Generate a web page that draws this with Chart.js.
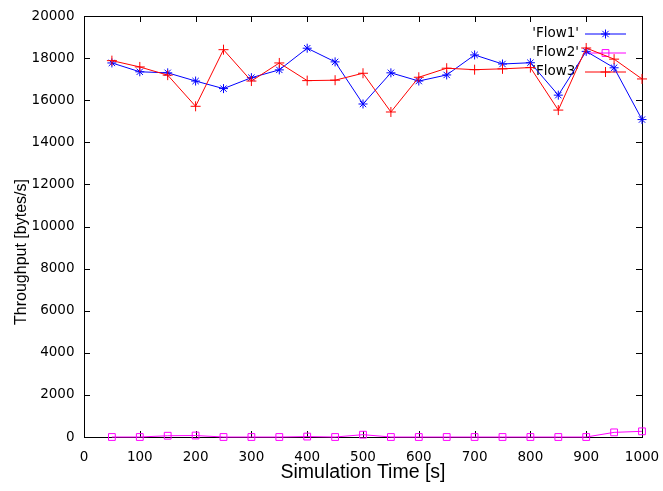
<!DOCTYPE html>
<html><head><meta charset="utf-8">
<script src="https://cdn.jsdelivr.net/npm/chart.js@4/dist/chart.umd.min.js"></script>
<style>html,body{margin:0;padding:0;background:#fff}#wrap{width:663px;height:491px}</style>
</head><body><div id="wrap"><canvas id="c" width="663" height="491"></canvas></div>
<script>
const times = [50,100,150,200,250,300,350,400,450,500,550,600,650,700,750,800,850,900,950,1000];
const flow1 = [17770,17350,17300,16910,16550,17070,17440,18470,17820,15820,17300,16910,17200,18150,17720,17780,16240,18320,17540,15080];
const flow2 = [0,0,60,70,0,0,0,20,0,110,0,0,0,0,0,0,0,0,220,270];
const flow3 = [17880,17580,17190,15710,18400,16910,17770,16930,16950,17280,15440,17090,17520,17450,17490,17550,15530,18480,17950,17010];
const xTicks = [0,100,200,300,400,500,600,700,800,900,1000];
const yTicks = [0,2000,4000,6000,8000,10000,12000,14000,16000,18000,20000];
const seriesNames = ["'Flow1'","'Flow2'","'Flow3'"];
const xTitle = 'Simulation Time [s]';
const yTitle = 'Throughput [bytes/s]';

const pts = arr => times.map((t,i)=>({x:t,y:arr[i]}));

const framePlugin = {
  id:'frame',
  beforeDatasetsDraw(chart){
    const {ctx, chartArea:a, scales:{x,y}} = chart;
    ctx.save();
    ctx.strokeStyle = '#000';
    ctx.lineWidth = 1;
    ctx.strokeRect(a.left+0.5, a.top+0.5, a.right-a.left, a.bottom-a.top);
    ctx.beginPath();
    const L = 6;
    x.ticks.forEach(t=>{
      const px = Math.round(x.getPixelForValue(t.value))+0.5;
      ctx.moveTo(px, a.bottom); ctx.lineTo(px, a.bottom-L);
      ctx.moveTo(px, a.top); ctx.lineTo(px, a.top+L);
    });
    y.ticks.forEach(t=>{
      const py = Math.round(y.getPixelForValue(t.value))+0.5;
      ctx.moveTo(a.left, py); ctx.lineTo(a.left+L, py);
      ctx.moveTo(a.right, py); ctx.lineTo(a.right-L, py);
    });
    ctx.stroke();
    // key
    ctx.font = '13.5px "DejaVu Sans"';
    ctx.textAlign = 'right';
    ctx.textBaseline = 'middle';
    chart.data.datasets.forEach((ds,i)=>{
      const yy = 33.5 + i*19;
      ctx.fillStyle = '#000';
      ctx.fillText(ds.label, 579, yy);
      ctx.strokeStyle = ds.borderColor;
      ctx.fillStyle = 'rgba(0,0,0,0)';
      ctx.lineWidth = 1;
      ctx.beginPath(); ctx.moveTo(585, yy+0.5); ctx.lineTo(626, yy+0.5); ctx.stroke();
      Chart.helpers.drawPoint(ctx, {pointStyle: ds.pointStyle, radius: ds.pointRadius, rotation:0, borderWidth:1}, 605.5, yy+0.5);
    });
    // y title
    ctx.save();
    ctx.translate(22, 252);
    ctx.rotate(-Math.PI/2);
    ctx.textAlign = 'center';
    ctx.textBaseline = 'middle';
    ctx.fillStyle = '#000';
    ctx.font = '16px "Liberation Sans"';
    ctx.fillText(yTitle, 0, 0);
    ctx.restore();
    ctx.restore();
  }
};

const mk = (label, arr, color, style, r) => ({
  label, data: pts(arr), borderColor: color, backgroundColor: 'transparent',
  borderWidth: 1, pointStyle: style, pointRadius: r, pointBorderWidth: 1,
  pointBorderColor: color, pointBackgroundColor: 'transparent', tension: 0, clip: false
});

const plain = v => String(v);

new Chart(document.getElementById('c'), {
  type: 'line',
  data: { datasets: [
    Object.assign(mk(seriesNames[0], flow1, '#0000ff', 'star', 4.5), {order:2}),
    Object.assign(mk(seriesNames[1], flow2, '#ff00ff', 'rect', 4.8), {order:1}),
    Object.assign(mk(seriesNames[2], flow3, '#ff0000', 'cross', 5), {order:0})
  ]},
  options: {
    responsive: false, animation: false, devicePixelRatio: 1,
    layout: { padding: { top: 16, right: 21, left: 0, bottom: 0 } },
    plugins: { legend: { display: false }, tooltip: { enabled: false } },
    scales: {
      x: {
        type: 'linear', min: 0, max: 1000,
        afterBuildTicks: s => { s.ticks = xTicks.map(v=>({value:v})); },
        afterFit: s => { s.height = 54; s.paddingLeft = 0; s.paddingRight = 0; },
        grid: { display: true, drawOnChartArea: false, drawTicks: false, color: 'transparent' },
        border: { display: false },
        ticks: { color: '#000', padding: 12, maxRotation: 0, autoSkip: false, callback: plain, font: { family: 'DejaVu Sans', size: 13.5 } },
        title: { display: true, text: xTitle, color: '#000', padding: { top: 0, bottom: 6.8 }, font: { family: 'Liberation Sans', size: 19.5 } }
      },
      y: {
        type: 'linear', min: 0, max: 20000,
        afterBuildTicks: s => { s.ticks = yTicks.map(v=>({value:v})); },
        afterFit: s => { s.width = 84; s.paddingTop = 0; s.paddingBottom = 0; },
        grid: { display: true, drawOnChartArea: false, drawTicks: false, color: 'transparent' },
        border: { display: false },
        ticks: { color: '#000', padding: 9.5, autoSkip: false, callback: plain, font: { family: 'DejaVu Sans', size: 13.5 } }
      }
    }
  },
  plugins: [framePlugin]
});
</script></body></html>
